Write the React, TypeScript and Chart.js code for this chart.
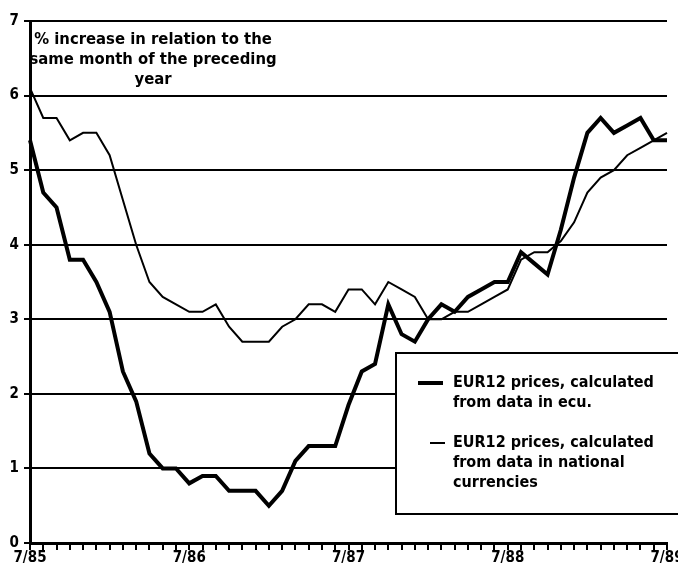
import React, { useEffect, useRef } from "react";
import { Chart, registerables } from "chart.js";

Chart.register(...registerables);

const months = [
  "7/85", "8/85", "9/85", "10/85", "11/85", "12/85", "1/86", "2/86", "3/86", "4/86", "5/86", "6/86",
  "7/86", "8/86", "9/86", "10/86", "11/86", "12/86", "1/87", "2/87", "3/87", "4/87", "5/87", "6/87",
  "7/87", "8/87", "9/87", "10/87", "11/87", "12/87", "1/88", "2/88", "3/88", "4/88", "5/88", "6/88",
  "7/88", "8/88", "9/88", "10/88", "11/88", "12/88", "1/89", "2/89", "3/89", "4/89", "5/89", "6/89",
  "7/89",
];

const ecuSeries = [
  5.4, 4.7, 4.5, 3.8, 3.8, 3.5, 3.1, 2.3, 1.9, 1.2, 1.0, 1.0,
  0.8, 0.9, 0.9, 0.7, 0.7, 0.7, 0.5, 0.7, 1.1, 1.3, 1.3, 1.3,
  1.85, 2.3, 2.4, 3.2, 2.8, 2.7, 3.0, 3.2, 3.1, 3.3, 3.4, 3.5,
  3.5, 3.9, 3.75, 3.6, 4.2, 4.9, 5.5, 5.7, 5.5, 5.6, 5.7, 5.4,
  5.4,
];

const nationalSeries = [
  6.1, 5.7, 5.7, 5.4, 5.5, 5.5, 5.2, 4.6, 4.0, 3.5, 3.3, 3.2,
  3.1, 3.1, 3.2, 2.9, 2.7, 2.7, 2.7, 2.9, 3.0, 3.2, 3.2, 3.1,
  3.4, 3.4, 3.2, 3.5, 3.4, 3.3, 3.0, 3.0, 3.1, 3.1, 3.2, 3.3,
  3.4, 3.8, 3.9, 3.9, 4.05, 4.3, 4.7, 4.9, 5.0, 5.2, 5.3, 5.4,
  5.5,
];

const yMin = 0;
const yMax = 7;
const yStep = 1;
const labelEvery = 12;

const noteLines = ["% increase in relation to the", "same month of the preceding", "year"];
const legendEcu = ["EUR12 prices, calculated", "from data in ecu."];
const legendNational = ["EUR12 prices, calculated", "from data in national", "currencies"];

const FONT = "'Liberation Sans Narrow', 'DejaVu Sans Condensed', 'Liberation Sans', sans-serif";

const overlayPlugin = {
  id: "overlay",
  afterDraw(chart: any) {
    const ctx = chart.ctx as CanvasRenderingContext2D;
    ctx.save();
    ctx.fillStyle = "#000";
    ctx.font = `bold 16.5px ${FONT}`;
    ctx.textAlign = "center";
    ctx.textBaseline = "middle";
    noteLines.forEach((t, i) => ctx.fillText(t, 153, 40 + i * 20));

    // legend box
    ctx.fillStyle = "#fff";
    ctx.fillRect(396, 353, 320, 161);
    ctx.strokeStyle = "#000";
    ctx.lineWidth = 2;
    ctx.strokeRect(396, 353, 320, 161);

    ctx.fillStyle = "#000";
    ctx.textAlign = "left";
    ctx.font = `bold 16px ${FONT}`;
    ctx.lineWidth = 4;
    ctx.beginPath();
    ctx.moveTo(418, 383);
    ctx.lineTo(443, 383);
    ctx.stroke();
    ctx.lineWidth = 2;
    ctx.beginPath();
    ctx.moveTo(430, 443);
    ctx.lineTo(445, 443);
    ctx.stroke();
    legendEcu.forEach((t, i) => ctx.fillText(t, 453, 383 + i * 20));
    legendNational.forEach((t, i) => ctx.fillText(t, 453, 443 + i * 20));
    ctx.restore();
  },
};

export default function App() {
  const ref = useRef<HTMLCanvasElement | null>(null);

  useEffect(() => {
    document.body.style.margin = "0";
    const canvas = ref.current;
    if (!canvas) return;
    const chart = new Chart(canvas, {
      type: "line",
      data: {
        labels: months,
        datasets: [
          {
            label: "EUR12 prices, calculated from data in ecu.",
            data: ecuSeries,
            borderColor: "#000",
            borderWidth: 4,
            pointRadius: 0,
            tension: 0,
            fill: false,
          },
          {
            label: "EUR12 prices, calculated from data in national currencies",
            data: nationalSeries,
            borderColor: "#000",
            borderWidth: 2,
            pointRadius: 0,
            tension: 0,
            fill: false,
          },
        ],
      },
      options: {
        responsive: false,
        animation: false,
        devicePixelRatio: 1,
        layout: { padding: { top: 21, right: 23, left: 0, bottom: 0 } },
        plugins: {
          legend: { display: false },
          tooltip: { enabled: false },
          title: { display: false },
        },
        scales: {
          x: {
            type: "category",
            offset: false,
            grid: {
              drawOnChartArea: false,
              drawTicks: true,
              tickLength: 7,
              color: "#000",
              lineWidth: 2,
            },
            border: { display: true, color: "#000", width: 3 },
            ticks: {
              autoSkip: false,
              maxRotation: 0,
              minRotation: 0,
              padding: 1,
              color: "#000",
              font: { family: FONT, size: 15, weight: "bold", lineHeight: 1 },
              callback: function (this: any, value: any, index: number) {
                return index % labelEvery === 0 ? months[index] : "";
              },
            },
            afterFit: (scale: any) => {
              scale.height = 23;
            },
          },
          y: {
            min: yMin,
            max: yMax,
            grid: {
              color: "#000",
              lineWidth: 2,
              drawTicks: true,
              tickLength: 6,
            },
            border: { display: true, color: "#000", width: 3 },
            ticks: {
              stepSize: yStep,
              padding: 5,
              color: "#000",
              font: { family: FONT, size: 15, weight: "bold" },
            },
            afterFit: (scale: any) => {
              scale.width = 30;
            },
          },
        },
      },
      plugins: [overlayPlugin],
    });
    return () => chart.destroy();
  }, []);

  return (
    <div style={{ width: 678, height: 566, overflow: "hidden", background: "#fff" }}>
      <canvas ref={ref} width={690} height={566} style={{ display: "block" }} />
    </div>
  );
}
